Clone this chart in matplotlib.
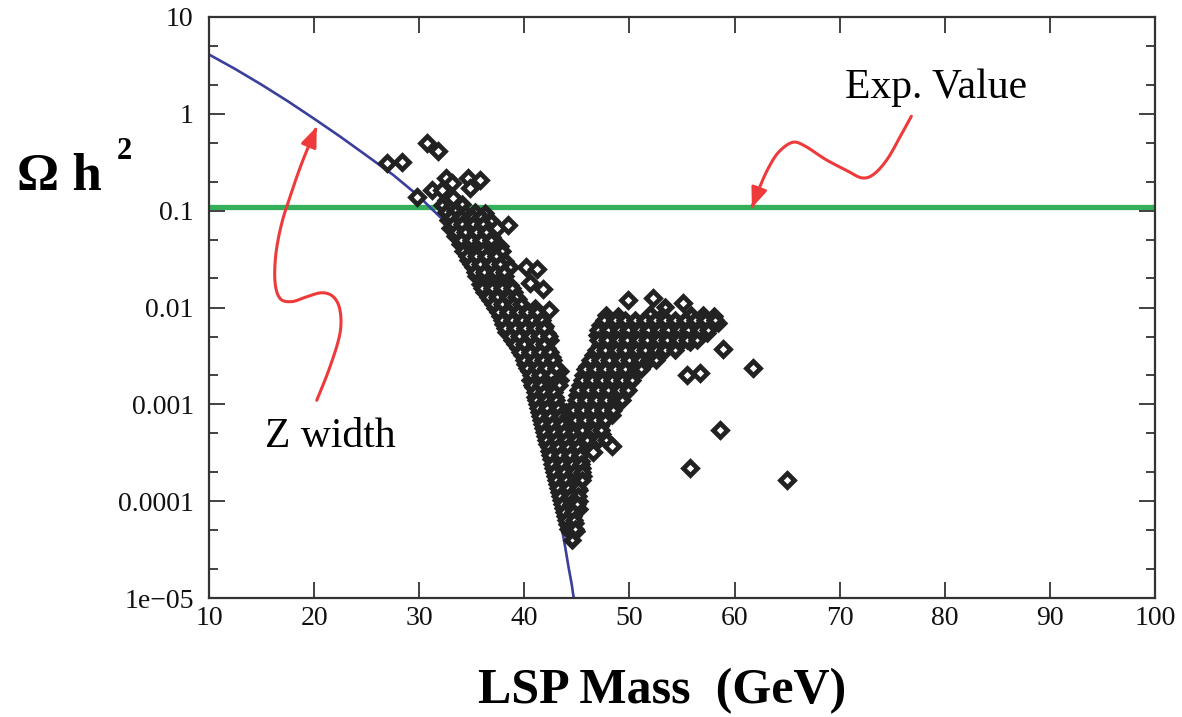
import numpy as np
import matplotlib
matplotlib.use("Agg")
import matplotlib.pyplot as plt
from matplotlib.path import Path
from matplotlib.patches import FancyArrowPatch
from matplotlib.ticker import LogLocator, NullFormatter, NullLocator

plt.rcParams["font.family"] = ["Liberation Serif", "DejaVu Serif"]

# Z-width curve (LSP mass in GeV, relic density)
curve_mass = [10, 12.5, 15, 17.5, 20, 22.5, 25, 27.5, 30, 31.0, 32.3, 34.4,
              36.1, 37.3, 38.35, 39.6, 40.5, 41.8, 42.7, 43.6, 43.9, 44.2, 44.5, 44.7]
curve_omega = [4.1, 2.9, 2.0, 1.35, 0.89, 0.58, 0.37, 0.235, 0.14, 0.109, 0.080, 0.037,
               0.0216, 0.0135, 0.0074, 0.0031, 0.0014, 3.6e-4, 1.3e-4, 5.0e-5, 3.3e-5,
               2.1e-5, 1.4e-5, 1.0e-5]

exp_value = 0.11

# scan points, (mass, omega)
outliers = [(26.9, 0.31), (28.4, 0.32), (30.7, 0.50), (31.8, 0.41), (29.8, 0.138),
            (31.2, 0.163), (32.5, 0.217), (33.1, 0.193), (32.2, 0.163), (33.2, 0.135),
            (34.6, 0.217), (35.8, 0.207), (34.8, 0.171),
            (58.9, 0.0037), (61.8, 0.0024), (55.5, 0.0020), (56.7, 0.0021),
            (58.6, 0.00054), (55.8, 0.00022), (65.0, 0.000165),
            (49.9, 0.0119), (52.2, 0.0125), (55.1, 0.0110),
            (37.4, 0.066), (38.4, 0.071), (40.2, 0.026), (41.2, 0.025),
            (40.5, 0.018), (41.8, 0.0155), (42.3, 0.0094), (48.3, 0.00037), (46.5, 0.00032)]

band_upper = [
    (32.5, 0.13), (33.7, 0.12),
    (32.2, 0.114), (33.1, 0.112), (34.1, 0.116),
    (32.5, 0.097), (33.4, 0.099), (34.4, 0.095), (35.3, 0.098), (36.3, 0.094),
    (32.7, 0.080), (33.6, 0.082), (34.5, 0.079), (35.6, 0.081), (36.8, 0.078),
    (32.9, 0.066), (33.9, 0.067), (34.8, 0.065), (35.8, 0.068), (36.5, 0.064),
    (33.4, 0.055), (34.4, 0.056), (35.3, 0.054), (36.3, 0.055), (36.9, 0.053),
    (33.9, 0.045), (34.8, 0.046), (35.8, 0.044), (36.7, 0.045), (37.7, 0.043),
    (34.2, 0.038), (35.1, 0.037), (36.1, 0.039), (37.0, 0.037), (37.9, 0.038),
    (34.6, 0.031), (35.6, 0.032), (36.5, 0.030), (37.5, 0.031), (38.2, 0.030),
    (35.1, 0.026), (36.1, 0.025), (37.0, 0.026), (38.0, 0.025), (38.6, 0.026),
    (35.4, 0.021), (36.3, 0.022), (37.3, 0.021), (38.2, 0.021),
    (35.8, 0.0175), (36.7, 0.017), (37.7, 0.018), (38.6, 0.0172),
    (36.2, 0.0145), (37.1, 0.0148), (38.1, 0.014), (39.0, 0.0145),
    (36.7, 0.0119), (37.7, 0.012), (38.6, 0.0116), (39.4, 0.0121),
]

band_middle = [
    (37.2, 0.0098), (38.2, 0.0097), (39.1, 0.0099), (40.1, 0.0096), (41.0, 0.0098),
    (37.7, 0.0081), (38.6, 0.0082), (39.6, 0.0080), (40.5, 0.0081), (41.5, 0.0079),
    (38.0, 0.0067), (38.9, 0.0068), (39.9, 0.0066), (40.8, 0.0067), (42.0, 0.0065),
    (38.3, 0.0056), (39.3, 0.0055), (40.2, 0.0057), (41.2, 0.0056), (42.2, 0.0055),
    (38.8, 0.0046), (39.8, 0.0047), (40.7, 0.0045), (41.7, 0.0046), (42.4, 0.0046),
    (39.4, 0.0038), (40.3, 0.0039), (41.3, 0.0037), (42.2, 0.0038),
    (39.8, 0.0032), (40.7, 0.0031), (41.7, 0.0032), (42.6, 0.0031),
    (40.1, 0.0026), (41.0, 0.0027), (42.0, 0.0026), (42.9, 0.0025), (43.4, 0.0022),
    (40.4, 0.0022), (41.3, 0.0021), (42.2, 0.0022),
    (40.5, 0.0018), (41.5, 0.0018), (42.4, 0.0017), (43.4, 0.0018),
    (40.8, 0.0015), (41.8, 0.0015), (42.7, 0.0014),
    (41.0, 0.0012), (42.0, 0.0012), (42.9, 0.00118),
    (41.2, 0.00101), (42.2, 0.0010), (43.1, 0.00098),
]

band_lower = [
    (41.4, 0.00084), (42.3, 0.00085), (43.3, 0.00083), (44.0, 0.00084),
    (41.6, 0.00069), (42.5, 0.00070), (43.5, 0.00068), (44.4, 0.00069),
    (41.8, 0.00057), (42.7, 0.00058), (43.7, 0.00056), (44.6, 0.00057), (45.6, 0.00058),
    (42.0, 0.00047), (42.9, 0.00048), (43.9, 0.00046), (44.8, 0.00047), (45.8, 0.00048),
    (42.2, 0.00039), (43.1, 0.00040), (44.1, 0.00038), (45.0, 0.00039), (45.9, 0.00040),
    (42.3, 0.00033), (43.3, 0.00032), (44.3, 0.00033), (45.2, 0.00034),
    (42.5, 0.00027), (43.5, 0.00028), (44.4, 0.00027), (45.4, 0.00026),
    (42.7, 0.00022), (43.7, 0.00023), (44.6, 0.00022), (45.5, 0.00022),
    (42.9, 0.00018), (43.9, 0.00018), (44.8, 0.00019), (45.6, 0.00018),
    (43.1, 0.00015), (44.1, 0.00015), (45.0, 0.000155),
    (43.3, 0.000125), (44.3, 0.000125), (45.2, 0.00013),
    (43.5, 0.000102), (44.4, 0.000105), (45.2, 0.00010),
    (43.7, 8.5e-5), (44.5, 8.7e-5), (45.2, 8.3e-5),
    (43.9, 7.1e-5), (44.6, 7.0e-5),
    (44.1, 5.8e-5), (44.8, 5.9e-5),
    (44.3, 4.8e-5), (44.9, 4.9e-5),
    (44.5, 4.0e-5),
]

band_fill = [
    (33.0, 0.086), (34.0, 0.086), (35.0, 0.086), (35.9, 0.086),
    (33.2, 0.072), (34.1, 0.072), (35.1, 0.072), (36.1, 0.072),
    (33.5, 0.060), (34.4, 0.060), (35.4, 0.060), (36.4, 0.060),
    (34.0, 0.050), (34.9, 0.050), (35.9, 0.050), (36.8, 0.050),
    (34.5, 0.034), (35.4, 0.034), (36.4, 0.034), (37.3, 0.034),
    (34.9, 0.028), (35.8, 0.028), (36.8, 0.028), (37.7, 0.028),
    (35.3, 0.023), (36.2, 0.023), (37.2, 0.023), (38.1, 0.023),
    (36.0, 0.016), (36.9, 0.016), (37.9, 0.016), (38.8, 0.016),
    (36.5, 0.0127), (37.4, 0.0127), (38.4, 0.0127), (39.2, 0.0127),
    (37.0, 0.0108), (37.9, 0.0108), (38.9, 0.0108), (39.7, 0.0108),
    (37.5, 0.0090), (38.4, 0.0090), (39.4, 0.0090), (40.3, 0.0090), (41.2, 0.0090),
    (37.9, 0.0074), (38.8, 0.0074), (39.8, 0.0074), (40.7, 0.0074), (41.7, 0.0074),
    (38.2, 0.0062), (39.1, 0.0062), (40.1, 0.0062), (41.0, 0.0062), (41.9, 0.0062),
    (38.6, 0.0051), (39.5, 0.0051), (40.5, 0.0051), (41.4, 0.0051), (42.3, 0.0051),
    (39.1, 0.0042), (40.0, 0.0042), (41.0, 0.0042), (41.9, 0.0042),
    (39.6, 0.0035), (40.5, 0.0035), (41.5, 0.0035), (42.4, 0.0035),
    (40.0, 0.0029), (40.9, 0.0029), (41.8, 0.0029), (42.7, 0.0029),
    (40.3, 0.0024), (41.2, 0.0024), (42.1, 0.0024), (43.0, 0.0024),
    (40.6, 0.0020), (41.5, 0.0020), (42.5, 0.0020),
    (40.7, 0.0016), (41.6, 0.0016), (42.6, 0.0016), (43.3, 0.0016),
    (41.0, 0.00135), (41.9, 0.00135), (42.8, 0.00135),
    (41.1, 0.0011), (42.1, 0.0011), (43.0, 0.0011),
    (41.3, 0.00092), (42.2, 0.00092), (43.2, 0.00092),
    (41.5, 0.00076), (42.4, 0.00076), (43.4, 0.00076), (44.2, 0.00076),
    (41.7, 0.00063), (42.6, 0.00063), (43.6, 0.00063), (44.5, 0.00063), (45.1, 0.00063),
    (41.9, 0.00052), (42.8, 0.00052), (43.8, 0.00052), (44.7, 0.00052), (45.7, 0.00052),
    (42.1, 0.00043), (43.0, 0.00043), (44.0, 0.00043), (44.9, 0.00043), (45.8, 0.00043),
    (42.3, 0.00036), (43.2, 0.00036), (44.2, 0.00036), (45.1, 0.00036),
    (42.4, 0.00030), (43.4, 0.00030), (44.3, 0.00030), (45.3, 0.00030),
    (42.6, 0.00024), (43.6, 0.00024), (44.5, 0.00024), (45.4, 0.00024),
    (42.8, 0.00020), (43.8, 0.00020), (44.7, 0.00020), (45.5, 0.00020),
    (43.0, 0.000165), (44.0, 0.000165), (44.9, 0.000165), (45.5, 0.000165),
    (43.2, 0.000137), (44.2, 0.000137), (45.1, 0.000137),
    (43.4, 0.000113), (44.3, 0.000113), (45.1, 0.000113),
    (43.6, 9.3e-5), (44.4, 9.3e-5), (45.0, 9.3e-5),
    (43.8, 7.7e-5), (44.6, 7.7e-5),
    (44.0, 6.4e-5), (44.7, 6.4e-5),
    (44.2, 5.2e-5), (44.8, 5.2e-5),
]

right_branch = [
    (53.4, 0.0102),
    (47.8, 0.0084), (48.9, 0.0082), (52.0, 0.0085), (53.1, 0.0081), (55.9, 0.0083),
    (57.0, 0.0084), (58.0, 0.0081),
    (47.2, 0.0066), (48.2, 0.0067), (49.1, 0.0065), (50.1, 0.0066), (51.0, 0.0068),
    (52.0, 0.0066), (52.9, 0.0065), (53.9, 0.0067), (54.8, 0.0066), (55.8, 0.0064),
    (56.7, 0.0067), (57.7, 0.0066), (58.4, 0.0069),
    (46.9, 0.0052), (47.9, 0.0053), (48.8, 0.0051), (49.8, 0.0052), (50.7, 0.0053),
    (51.7, 0.0051), (52.6, 0.0052), (53.6, 0.0053), (54.5, 0.0051), (55.5, 0.0052),
    (56.4, 0.0054), (57.4, 0.0055),
    (47.2, 0.0041), (48.2, 0.0042), (49.1, 0.0040), (50.1, 0.0041), (51.0, 0.0042),
    (52.0, 0.0040), (52.9, 0.0041), (53.9, 0.0042), (54.8, 0.0043), (55.8, 0.0044),
    (46.5, 0.0032), (47.4, 0.0033), (48.4, 0.0031), (49.3, 0.0032), (50.3, 0.0033),
    (51.2, 0.0032), (52.2, 0.0034), (53.0, 0.0035),
    (46.0, 0.0025), (46.9, 0.0026), (47.9, 0.0025), (48.8, 0.0026), (49.8, 0.0025),
    (50.7, 0.0026), (51.5, 0.0027),
    (45.6, 0.0020), (46.5, 0.0021), (47.5, 0.0020), (48.4, 0.0021), (49.3, 0.0020), (50.5, 0.0021),
    (45.3, 0.0016), (46.3, 0.00165), (47.2, 0.0016), (48.2, 0.00165), (49.1, 0.0016), (50.1, 0.0017),
    (45.0, 0.00125), (46.0, 0.0013), (46.9, 0.00125), (47.9, 0.0013), (48.8, 0.00125), (49.6, 0.0013),
    (44.8, 0.00098), (45.8, 0.0010), (46.7, 0.00097), (47.7, 0.0010), (48.6, 0.00099),
    (44.5, 0.00077), (45.5, 0.00078), (46.4, 0.00076), (47.4, 0.00078), (48.3, 0.00077),
    (45.1, 0.00061), (46.3, 0.00062), (47.2, 0.00060),
    (46.4, 0.00048), (47.4, 0.00049),
]

branch_fill = [
    (47.6, 0.0074), (48.6, 0.0074), (49.6, 0.0074), (50.5, 0.0074), (51.5, 0.0074), (52.4, 0.0074),
    (53.4, 0.0074), (54.3, 0.0074), (55.3, 0.0074), (56.2, 0.0074), (57.2, 0.0074), (58.1, 0.0074),
    (47.0, 0.0058), (48.0, 0.0058), (49.0, 0.0058), (49.9, 0.0058), (50.9, 0.0058), (51.8, 0.0058),
    (52.8, 0.0058), (53.7, 0.0058), (54.7, 0.0058), (55.6, 0.0058), (56.6, 0.0058), (57.5, 0.0058),
    (47.0, 0.0046), (47.9, 0.0046), (48.9, 0.0046), (49.8, 0.0046), (50.8, 0.0046), (51.7, 0.0046),
    (52.7, 0.0046), (53.6, 0.0046), (54.6, 0.0046), (55.5, 0.0046), (56.4, 0.0046),
    (46.8, 0.0036), (47.7, 0.0036), (48.7, 0.0036), (49.6, 0.0036), (50.6, 0.0036), (51.5, 0.0036),
    (52.5, 0.0036), (53.4, 0.0036), (54.3, 0.0036),
    (46.2, 0.0029), (47.2, 0.0029), (48.1, 0.0029), (49.1, 0.0029), (50.0, 0.0029), (51.0, 0.0029),
    (51.9, 0.0029), (52.5, 0.0029),
    (45.8, 0.0023), (46.7, 0.0023), (47.7, 0.0023), (48.6, 0.0023), (49.6, 0.0023), (50.6, 0.0023),
    (51.1, 0.0023),
    (45.5, 0.0018), (46.4, 0.0018), (47.4, 0.0018), (48.3, 0.0018), (49.3, 0.0018), (50.2, 0.0018),
    (45.1, 0.0014), (46.1, 0.0014), (47.0, 0.0014), (48.0, 0.0014), (49.0, 0.0014), (49.9, 0.0014),
    (44.9, 0.0011), (45.9, 0.0011), (46.8, 0.0011), (47.8, 0.0011), (48.7, 0.0011), (49.3, 0.0011),
    (44.6, 0.00087), (45.6, 0.00087), (46.5, 0.00087), (47.5, 0.00087), (48.4, 0.00087),
    (44.8, 0.00069), (45.8, 0.00069), (46.7, 0.00069), (47.7, 0.00069),
    (45.5, 0.00054), (46.5, 0.00054), (47.3, 0.00054),
    (46.0, 0.00043), (47.0, 0.00043), (47.8, 0.00043),
]

y_ticks = [1e-5, 1e-4, 1e-3, 1e-2, 1e-1, 1, 10]
y_labels = ["1e\u221205", "0.0001", "0.001", "0.01", "0.1", "1", "10"]
x_ticks = [10, 20, 30, 40, 50, 60, 70, 80, 90, 100]

# hand-drawn style arrows for the labels
z_arrow = [(20.25, 1.10e-3), (21.51, 2.44e-3), (22.46, 5.4e-3), (22.46, 9.4e-3),
           (21.83, 1.29e-2), (20.72, 1.42e-2), (19.30, 1.29e-2), (17.87, 1.15e-2),
           (16.76, 1.24e-2), (16.28, 1.84e-2), (16.37, 3.62e-2), (16.92, 7.4e-2),
           (17.71, 0.139), (18.82, 0.308), (20.25, 0.736)]
exp_arrow = [(76.82, 0.944), (75.85, 0.607), (74.56, 0.344), (73.27, 0.239),
             (72.14, 0.218), (70.69, 0.259), (68.65, 0.339), (66.70, 0.465),
             (65.52, 0.508), (64.22, 0.405), (63.26, 0.281), (62.45, 0.181),
             (61.65, 0.107)]


def smooth_path(points, steps=10):
    # Catmull-Rom through the points, in (mass, log omega) space
    p = np.array([(m, np.log10(o)) for m, o in points])
    p = np.vstack([p[0], p, p[-1]])
    out = [p[1]]
    for i in range(1, len(p) - 2):
        p0, p1, p2, p3 = p[i - 1], p[i], p[i + 1], p[i + 2]
        for t in np.linspace(0, 1, steps)[1:]:
            pt = 0.5 * (2 * p1 + (-p0 + p2) * t
                        + (2 * p0 - 5 * p1 + 4 * p2 - p3) * t ** 2
                        + (-p0 + 3 * p1 - 3 * p2 + p3) * t ** 3)
            out.append(pt)
    out = np.array(out)
    out[:, 1] = 10 ** out[:, 1]
    return out


fig = plt.figure(figsize=(11.82, 7.17), dpi=100)
ax = fig.add_axes([209 / 1182, 1 - 598 / 717, (1155 - 209) / 1182, (598 - 17) / 717])

ax.axhline(exp_value, color="#34b05a", lw=3.8, zorder=1)
ax.plot(curve_mass, curve_omega, color="#3a3f9e", lw=1.9, zorder=2)

# dense part of the scan: overlapping markers, thick outlines
for group in (band_upper, band_middle, band_lower, band_fill, right_branch, branch_fill):
    m, o = zip(*group)
    ax.plot(m, o, ls="none", marker="D", ms=6.4, mew=3.9,
            mfc="white", mec="#222222", zorder=3)

m, o = zip(*outliers)
ax.plot(m, o, ls="none", marker="D", ms=6.8, mew=3.4,
        mfc="white", mec="#222222", zorder=3)

ax.set_yscale("log")
ax.set_xlim(10, 100)
ax.set_ylim(1e-5, 10)
ax.set_xticks(x_ticks)
ax.xaxis.set_minor_locator(NullLocator())
ax.set_yticks(y_ticks, y_labels)
ax.yaxis.set_minor_locator(LogLocator(base=10, subs=(2, 5)))
ax.yaxis.set_minor_formatter(NullFormatter())

ax.tick_params(which="major", direction="in", length=11.5, width=1.3,
               top=True, right=True, labelsize=20, labelcolor="#111111", color="#333333")
ax.tick_params(which="minor", direction="in", length=6.5, width=1.3,
               left=True, right=True, color="#333333")
ax.tick_params(axis="x", pad=6)
ax.tick_params(axis="y", pad=11)
for sp in ax.spines.values():
    sp.set_linewidth(1.6)
    sp.set_color("#333333")

red = "#ee3a3a"
for pts in (z_arrow, exp_arrow):
    arrow = FancyArrowPatch(path=Path(smooth_path(pts)),
                            arrowstyle="-|>,head_length=1.0,head_width=0.4",
                            mutation_scale=12, color=red, lw=2.2,
                            transform=ax.transData, zorder=4)
    ax.add_patch(arrow)

ax.text(21.5, 4.6e-4, "Z width", fontsize=30, ha="center", va="center", zorder=5)
ax.text(79.2, 1.85, "Exp. Value", fontsize=30, ha="center", va="center", zorder=5)

fig.text(17 / 1182, 1 - 190 / 717, "\u03a9 h", fontsize=38, fontweight="bold",
         ha="left", va="baseline")
fig.text(117 / 1182, 1 - 159 / 717, "2", fontsize=22, fontweight="bold",
         ha="left", va="baseline")
fig.text(662 / 1182, 1 - 703 / 717, "LSP Mass  (GeV)", fontsize=36, fontweight="bold",
         ha="center", va="baseline")

fig.savefig("out.png", dpi=100)
